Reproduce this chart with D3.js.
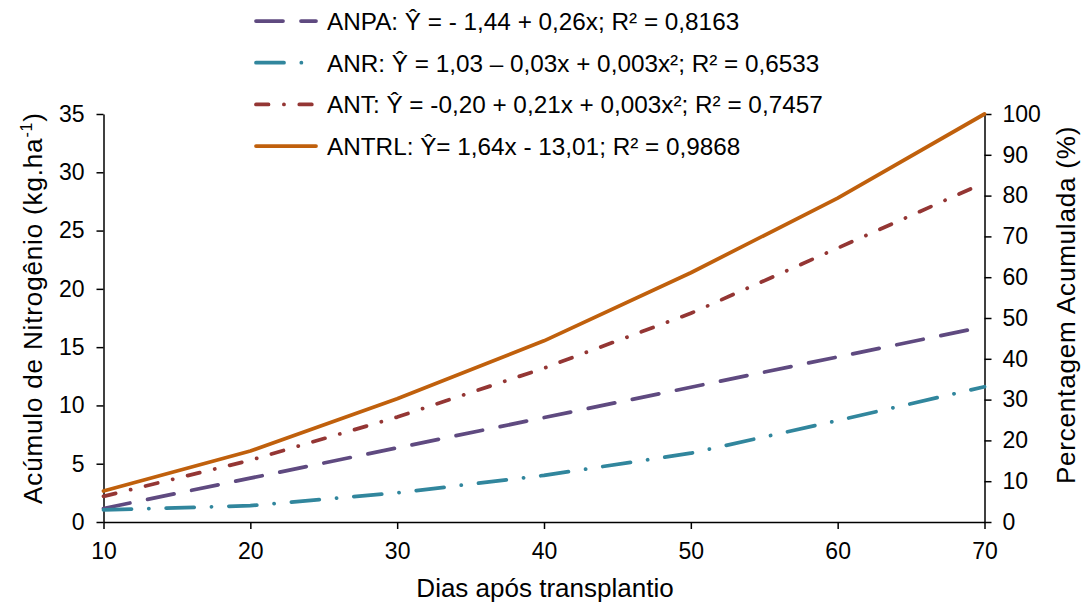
<!DOCTYPE html>
<html>
<head>
<meta charset="utf-8">
<style>
  body { margin: 0; background: #fff; }
  svg { display: block; font-family: "Liberation Sans", Arial, sans-serif; }
</style>
</head>
<body>
<svg width="1086" height="604"></svg>
<script src="https://d3js.org/d3.v7.min.js"></script>
<script>
// data
const dias = [10, 20, 30, 40, 50, 60, 70];
const anpa = [1.16, 3.76, 6.36, 8.96, 11.56, 14.16, 16.76];   // kg/ha, left axis
const anr = [1.03, 1.4, 2.5, 4.0, 5.9, 8.7, 11.6];            // kg/ha, left axis
const ant = [2.2, 5.3, 9.0, 13.2, 17.9, 23.5, 29.1];           // kg/ha, left axis
const antrl = [7.6, 17.4, 30.2, 44.4, 61.1, 79.4, 100];        // %, right axis

const xTicks = [10, 20, 30, 40, 50, 60, 70];
const yLeftTicks = [0, 5, 10, 15, 20, 25, 30, 35];
const yRightTicks = [0, 10, 20, 30, 40, 50, 60, 70, 80, 90, 100];

const legendLabels = [
  "ANPA: Ŷ = - 1,44 + 0,26x; R² = 0,8163",
  "ANR: Ŷ = 1,03 – 0,03x + 0,003x²; R² = 0,6533",
  "ANT: Ŷ = -0,20 + 0,21x + 0,003x²; R² = 0,7457",
  "ANTRL: Ŷ= 1,64x - 13,01; R² = 0,9868"
];

const svg = d3.select("svg");
const plotL = 103.5, plotR = 984.5, plotT = 114, plotB = 522;

const x = d3.scaleLinear().domain([10, 70]).range([plotL, plotR]);
const yL = d3.scaleLinear().domain([0, 35]).range([plotB, plotT]);
const yR = d3.scaleLinear().domain([0, 100]).range([plotB, plotT]);

// axes
function styleAxis(g) {
  g.select(".domain").attr("stroke", "#000").attr("stroke-width", 1.5);
  g.selectAll(".tick line").attr("stroke", "#000").attr("stroke-width", 1.5);
  g.selectAll(".tick text").attr("fill", "#000").style("font-size", "23px");
}

svg.append("g")
  .attr("transform", "translate(0," + plotB + ")")
  .call(d3.axisBottom(x).tickValues(xTicks).tickSize(7).tickSizeOuter(0).tickPadding(14).tickFormat(d3.format("d")))
  .call(styleAxis);

svg.append("g")
  .attr("transform", "translate(" + plotL + ",0)")
  .call(d3.axisLeft(yL).tickValues(yLeftTicks).tickSize(7).tickSizeOuter(0).tickPadding(12))
  .call(styleAxis);

svg.append("g")
  .attr("transform", "translate(" + plotR + ",0)")
  .call(d3.axisRight(yR).tickValues(yRightTicks).tickSize(7).tickSizeOuter(0).tickPadding(11))
  .call(styleAxis);

// axis titles
svg.append("text")
  .attr("transform", "translate(42,308) rotate(-90)")
  .attr("text-anchor", "middle")
  .style("font-size", "26px")
  .style("letter-spacing", "0.85px")
  .html('Acúmulo de Nitrogênio (kg.ha<tspan dy="-10" font-size="16px">-1</tspan><tspan dy="10">)</tspan>');

svg.append("text")
  .attr("transform", "translate(1075,305) rotate(-90)")
  .attr("text-anchor", "middle")
  .style("font-size", "26px")
  .style("letter-spacing", "0.8px")
  .text("Percentagem Acumulada (%)");

svg.append("text")
  .attr("x", 545).attr("y", 597)
  .attr("text-anchor", "middle")
  .style("font-size", "26px")
  .text("Dias após transplantio");

// series
const series = [
  { vals: anpa, y: yL, color: "#5f4a80", dash: "27,18" },
  { vals: anr, y: yL, color: "#31869d", dash: "28,17.3,0.1,17.3" },
  { vals: ant, y: yL, color: "#943634", dash: "12.5,15.4,0.1,15.3" },
  { vals: antrl, y: yR, color: "#c0600c", dash: null }
];

series.forEach(function(s) {
  const line = d3.line()
    .x(function(d, i) { return x(dias[i]); })
    .y(function(d) { return s.y(d); });
  svg.append("path")
    .datum(s.vals)
    .attr("d", line)
    .attr("fill", "none")
    .attr("stroke", s.color)
    .attr("stroke-width", 3.75)
    .attr("stroke-linecap", "round")
    .attr("stroke-linejoin", "round")
    .attr("stroke-dasharray", s.dash);
});

// legend
const legend = svg.append("g");
legendLabels.forEach(function(lbl, i) {
  const yy = 21 + i * 41.7;
  const s = series[i];
  legend.append("line")
    .attr("x1", 256).attr("x2", 316)
    .attr("y1", yy).attr("y2", yy)
    .attr("stroke", s.color)
    .attr("stroke-width", 3.75)
    .attr("stroke-linecap", "round")
    .attr("stroke-dasharray", s.dash);
  legend.append("text")
    .attr("x", 327).attr("y", yy + 9)
    .style("font-size", "24.3px")
    .text(lbl);
});
</script>
</body>
</html>
